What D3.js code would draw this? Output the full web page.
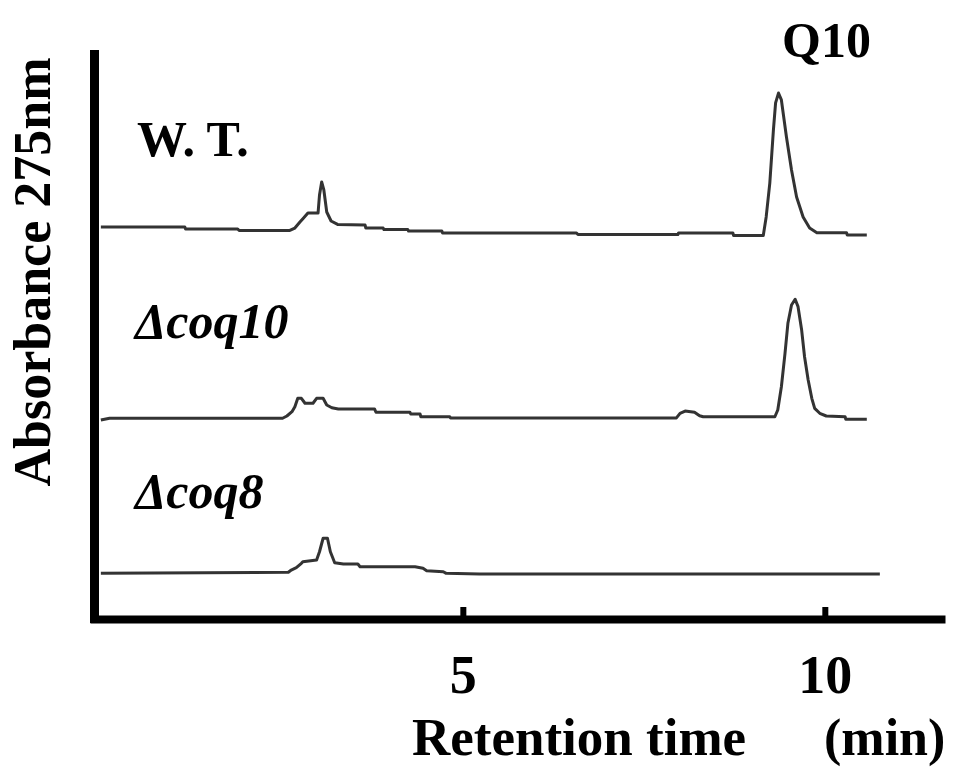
<!DOCTYPE html>
<html lang="en">
<head>
    <meta charset="UTF-8">
    <title>HPLC Q10</title>
    <style>
        body { margin: 0; background: #fff; }
        text { font-family: "Liberation Serif", "Times New Roman", "Noto Sans CJK JP", serif; font-weight: bold; }
    </style>
</head>
<body>
    <svg id="chart" width="958" height="769"></svg>
    <script src="https://d3js.org/d3.v7.min.js"></script>
    <script>
        // retention time (min) and signal above each trace's own baseline (arbitrary units)
        let wtTime = [0, 1.16, 1.17, 1.89, 1.91, 2.61, 2.68, 2.75, 2.80, 2.86, 3.00, 3.02, 3.05, 3.08, 3.12, 3.18, 3.27, 3.65, 3.66, 3.90, 3.91, 4.24, 4.25, 4.71, 4.72, 6.57, 6.59, 7.97, 7.98, 8.73, 8.74, 9.15, 9.19, 9.24, 9.29, 9.32, 9.36, 9.40, 9.47, 9.54, 9.61, 9.70, 9.79, 9.89, 10.30, 10.31, 10.58]
        let wtSignal = [2, 2, 0.7, 0.7, -0.3, -0.3, 1.3, 5.3, 8, 11.3, 11.3, 23.3, 32, 26.7, 12, 6, 3.7, 3.3, 1.3, 1.3, 0.3, 0.3, -0.7, -0.7, -2, -2, -3, -3, -2, -2, -3.7, -3.7, 8.7, 31.3, 66.7, 84.7, 91.3, 86.7, 62, 40, 22, 8.7, 1.3, -1.8, -1.8, -3.3, -3.3]

        let coq10Time = [0, 0.12, 2.51, 2.57, 2.64, 2.68, 2.72, 2.77, 2.82, 2.93, 2.98, 3.07, 3.12, 3.19, 3.28, 3.78, 3.80, 4.27, 4.28, 4.41, 4.42, 4.82, 4.83, 7.95, 8.00, 8.07, 8.20, 8.27, 8.32, 9.31, 9.35, 9.40, 9.45, 9.49, 9.54, 9.59, 9.63, 9.68, 9.72, 9.77, 9.82, 9.86, 9.93, 10.02, 10.28, 10.29, 10.58]
        let coq10Signal = [-1.7, -0.5, -0.5, 1, 3.9, 7.2, 12.8, 12.8, 9.5, 9.5, 12.8, 12.8, 8.3, 6.5, 5.7, 5.7, 3.5, 3.5, 2.3, 2.3, 0.5, 0.5, -0.3, -0.3, 2.8, 4.3, 3.5, 1.2, 0.5, 0.5, 5, 20.5, 42.8, 62.8, 75, 78.8, 73.9, 58.3, 40.5, 25, 12.8, 6.1, 2.8, 1, 0.5, -1.2, -1.2]

        let coq8Time = [0, 2.59, 2.63, 2.70, 2.77, 2.79, 2.98, 3.02, 3.07, 3.13, 3.17, 3.23, 3.35, 3.55, 3.58, 4.34, 4.45, 4.50, 4.73, 4.77, 5.23, 10.76]
        let coq8Signal = [0.1, 0.8, 2.3, 3.9, 6.8, 7.9, 9, 14.5, 23.5, 23.5, 14.5, 7.2, 6.3, 6.3, 4.5, 4.5, 3.5, 1.9, 1.2, 0.1, -0.3, -0.3]

        let traceNames = ['W. T.', 'Δcoq10', 'Δcoq8']
        let traceOffsets = [260, 135, 31]   // vertical stacking of the three runs
        let xTicks = [5, 10]

        let svg = d3.select('#chart')

        let x = d3.scaleLinear().domain([-0.15, 11.66]).range([90, 945])
        let y = d3.scaleLinear().domain([0, 380]).range([620, 50])

        let traces = [
            { time: wtTime, signal: wtSignal },
            { time: coq10Time, signal: coq10Signal },
            { time: coq8Time, signal: coq8Signal }
        ]

        let line = d3.line()
            .x(d => x(d[0]))
            .y(d => y(d[1]))

        traces.forEach((t, i) => {
            let pts = t.time.map((tm, j) => [tm, t.signal[j] + traceOffsets[i]])
            svg.append('path')
                .datum(pts)
                .attr('d', line)
                .attr('fill', 'none')
                .attr('stroke', '#333')
                .attr('stroke-width', 3)
                .attr('stroke-linejoin', 'round')
        })

        // y axis (plain thick bar, no ticks)
        svg.append('line')
            .attr('x1', 94.5).attr('x2', 94.5)
            .attr('y1', 50).attr('y2', 623)
            .attr('stroke', '#000').attr('stroke-width', 9)

        // x axis
        let xAxis = svg.append('g')
            .attr('transform', 'translate(0,619)')
            .call(d3.axisBottom(x).tickValues(xTicks).tickSizeInner(-12).tickSizeOuter(0).tickFormat(d3.format('d')))
        xAxis.select('.domain').attr('stroke', '#000').attr('stroke-width', 8)
        xAxis.selectAll('.tick line').attr('stroke', '#000').attr('stroke-width', 6)
        xAxis.selectAll('.tick text')
            .attr('y', 74).attr('dy', 0)
            .attr('fill', '#000')
            .style('font-size', '54px')
            .style('font-family', '"Liberation Serif", serif')
            .style('font-weight', 'bold')

        // axis titles
        svg.append('text')
            .attr('x', 412).attr('y', 755)
            .style('font-size', '53px')
            .text('Retention time')
        svg.append('text')
            .attr('x', 824).attr('y', 755)
            .style('font-size', '52px')
            .text('(min)')

        svg.append('text')
            .attr('transform', 'translate(50,272) rotate(-90)')
            .attr('text-anchor', 'middle')
            .style('font-size', '52px')
            .text('Absorbance 275nm')

        // trace labels
        let labelPos = [[137, 156, 'normal'], [135, 338, 'italic'], [135, 508, 'italic']]
        traceNames.forEach((n, i) => {
            svg.append('text')
                .attr('x', labelPos[i][0]).attr('y', labelPos[i][1])
                .style('font-size', '50px')
                .style('font-style', labelPos[i][2])
                .text(n)
        })

        svg.append('text')
            .attr('x', 782).attr('y', 57)
            .style('font-size', '50px')
            .text('Q10')
    </script>
</body>
</html>
